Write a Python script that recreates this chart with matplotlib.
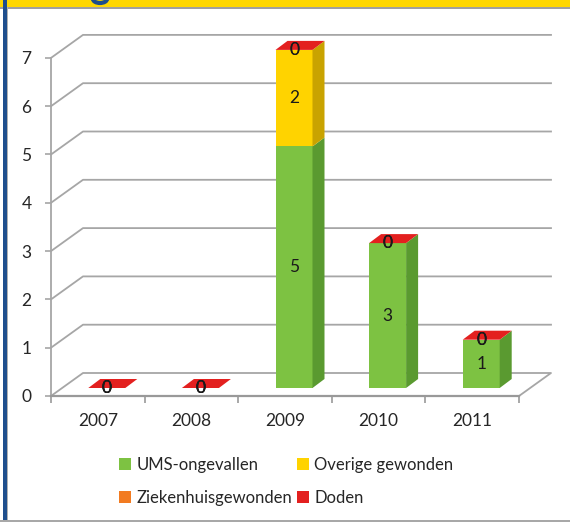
import matplotlib
matplotlib.use("Agg")
import matplotlib.pyplot as plt
from matplotlib.patches import Polygon, Rectangle, Arc
import numpy as np

# ---- data ----
years = ["2007", "2008", "2009", "2010", "2011"]
ums = [0, 0, 5, 3, 1]
overige = [0, 0, 2, 0, 0]
ziekenhuis = [0, 0, 0, 0, 0]
doden = [0, 0, 0, 0, 0]
series_names = ["UMS-ongevallen", "Overige gewonden", "Ziekenhuisgewonden", "Doden"]
yticks = [0, 1, 2, 3, 4, 5, 6, 7]

# ---- style ----
front_cols = ["#7DC242", "#FFD300", "#F27B21", "#E3201F"]
side_cols = ["#5A9A30", "#C9A300", "#C05A10", "#B01515"]
grid_col = "#A6A6A6"
txt_col = "#262626"

plt.rcParams['font.family'] = ['Lato', 'DejaVu Sans']

W, H = 570, 522
fig = plt.figure(figsize=(W / 100, H / 100), dpi=100)

# frame decorations
fig.patches.append(Rectangle((0, 1 - 7 / H), 1, 7 / H, transform=fig.transFigure,
                             facecolor="#FFD700", edgecolor="none", zorder=0))
fig.patches.append(Rectangle((0, 1 - 9 / H), 1, 1.5 / H, transform=fig.transFigure,
                             facecolor="#A0A0A0", edgecolor="none", zorder=0))
fig.patches.append(Rectangle((3 / W, 0), 3.5 / W, 1, transform=fig.transFigure,
                             facecolor="#1F4E8C", edgecolor="none", zorder=1))
fig.patches.append(Rectangle((6.5 / W, 0), 1.2 / W, 1 - 7 / H, transform=fig.transFigure,
                             facecolor="#B0B0B0", edgecolor="none", zorder=1))
fig.patches.append(Rectangle((0, 0), 1, 2 / H, transform=fig.transFigure,
                             facecolor="#A8A8A8", edgecolor="none", zorder=1))
# fragment of the (cut-off) title glyph in the yellow band
fig.patches.append(Arc((100 / W, 1 + 1 / H), 14 / W, 8 / H, theta1=180, theta2=360,
                       transform=fig.transFigure, color="#1F4E8C", lw=3, zorder=2))

# axes: front plane
px_x = 93.6   # px per category
px_y = 48.3   # px per unit
left_px, right_px, top_px, base_px = 51, 566, 22, 396
xmin = -0.5
xmax = xmin + (right_px - left_px) / px_x
ymax = (base_px - top_px) / px_y
ax = fig.add_axes([left_px / W, (H - base_px) / H, (right_px - left_px) / W, (base_px - top_px) / H])
ax.set_xlim(xmin, xmax)
ax.set_ylim(0, ymax)
ax.patch.set_visible(False)

DX, DY = 32 / px_x, 23 / px_y          # back wall offset
BX, BY = 9 / px_x, 8 / px_y            # bar offset
SDX, SDY = 12 / px_x, 9 / px_y         # bar depth
BW = 37 / px_x
n = len(years)
x = np.arange(n)
ytop = max(yticks)

# gridlines (perspective)
for v in yticks[1:]:
    ax.plot([xmin, xmin + DX, n - 0.5 + DX], [v, v + DY, v + DY],
            color=grid_col, lw=1.3, zorder=1, clip_on=False)
# floor
ax.plot([xmin, xmin + DX, n - 0.5 + DX, n - 0.5], [0, DY, DY, 0],
        color=grid_col, lw=1.3, zorder=1, clip_on=False)

# stacked bars
data = [ums, overige, ziekenhuis, doden]
bottom = np.zeros(n)
handles = []
xc = x + BX
for k, vals in enumerate(data):
    vals = np.array(vals, dtype=float)
    b0 = bottom + BY
    bars = ax.bar(xc, vals, BW, bottom=b0, color=front_cols[k], edgecolor="none",
                  zorder=3, label=series_names[k])
    handles.append(bars)
    for i in range(n):
        x1 = xc[i] + BW / 2
        lo, hi = b0[i], b0[i] + vals[i]
        if vals[i] > 0:
            ax.add_patch(Polygon([(x1, lo), (x1 + SDX, lo + SDY), (x1 + SDX, hi + SDY), (x1, hi)],
                                 closed=True, facecolor=side_cols[k], edgecolor="none", zorder=3))
    bottom = bottom + vals

# top caps (Doden, zero height -> red top face)
for i in range(n):
    x0, x1 = xc[i] - BW / 2, xc[i] + BW / 2
    t = bottom[i] + BY
    ax.add_patch(Polygon([(x0, t), (x1, t), (x1 + SDX, t + SDY), (x0 + SDX, t + SDY)],
                         closed=True, facecolor=front_cols[3], edgecolor="none", zorder=4))

# value labels
bottom = np.zeros(n)
for k, vals in enumerate(data):
    vals = np.array(vals, dtype=float)
    for i in range(n):
        yc = bottom[i] + BY + vals[i] / 2
        ax.text(xc[i], yc, f"{int(vals[i])}", ha="center", va="center",
                fontsize=12.5, color="#1A1A1A", zorder=6)
    bottom = bottom + vals

# spines / ticks
for s in ["top", "right"]:
    ax.spines[s].set_visible(False)
ax.spines["left"].set_bounds(0, ytop)
ax.spines["left"].set_color(grid_col)
ax.spines["left"].set_linewidth(1.3)
ax.spines["bottom"].set_bounds(xmin, n - 0.5)
ax.spines["bottom"].set_color("#999999")
ax.spines["bottom"].set_linewidth(1.6)
ax.spines["bottom"].set_zorder(5)

ax.set_yticks(yticks)
ax.set_yticklabels([str(v) for v in yticks])
ax.tick_params(axis="y", length=4, width=1.2, color=grid_col, pad=10,
               labelsize=12.5, labelcolor=txt_col)
ax.set_xticks(x)
ax.set_xticklabels(years)
ax.set_xticks(np.arange(n + 1) - 0.5, minor=True)
ax.tick_params(axis="x", which="major", length=0, pad=12, labelsize=12.5, labelcolor=txt_col)
ax.tick_params(axis="x", which="minor", length=5, width=1.2, color="#999999")

# legend (row-wise order: UMS, Overige / Ziekenhuis, Doden)
order = [0, 2, 1, 3]
leg = fig.legend(handles=[handles[i] for i in order], labels=[series_names[i] for i in order],
                 ncol=2, loc="upper left",
                 bbox_to_anchor=(112 / W, 1 - 450 / H), frameon=False, fontsize=12,
                 handlelength=0.75, handleheight=0.75, handletextpad=0.3,
                 columnspacing=0.3, labelspacing=1.05, borderaxespad=0)
for t in leg.get_texts():
    t.set_color(txt_col)

fig.savefig("out.png", dpi=100)
